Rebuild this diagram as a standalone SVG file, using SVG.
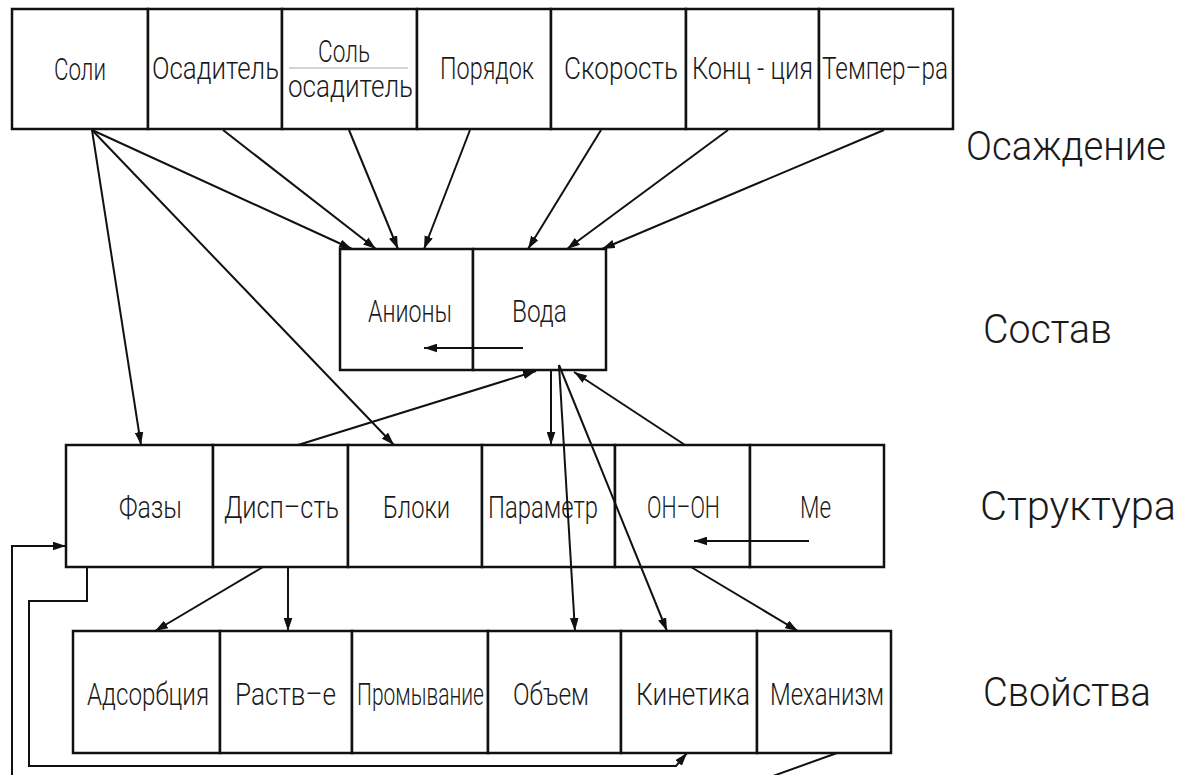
<svg xmlns="http://www.w3.org/2000/svg" width="1182" height="775" viewBox="0 0 1182 775">
<defs>
<marker id="ah" viewBox="0 0 12 8" refX="12" refY="4" markerWidth="13" markerHeight="9" markerUnits="userSpaceOnUse" orient="auto">
<path d="M0,0 L12,4 L0,8 z" fill="#111"/>
</marker>
<style>
.box{fill:#fff;stroke:#111;stroke-width:2.5}
.t{font-family:Roboto,"DejaVu Sans",sans-serif;font-weight:300;font-size:32px;fill:#1a1a1a}
.lbl{font-family:Roboto,"DejaVu Sans",sans-serif;font-weight:300;font-size:41px;fill:#1a1a1a}
.c{fill:none;stroke:#111;stroke-width:2}
.a{fill:none;stroke:#111;stroke-width:2;marker-end:url(#ah)}
</style>
</defs>
<rect width="1182" height="775" fill="#fff"/>

<!-- Row 1: Осаждение -->
<g id="n-soli"><rect class="box" x="12" y="9" width="136" height="120"/><text class="t" transform="translate(54,80) scale(0.75,1)" textLength="69.3" lengthAdjust="spacingAndGlyphs">Соли</text></g>
<g id="n-osaditel"><rect class="box" x="148" y="9" width="134" height="120"/><text class="t" transform="translate(152,79) scale(0.75,1)" textLength="169.3" lengthAdjust="spacingAndGlyphs">Осадитель</text></g>
<g id="n-sol-osaditel"><rect class="box" x="282" y="9" width="135" height="120"/><text class="t" transform="translate(318,62) scale(0.75,1)" textLength="69.3" lengthAdjust="spacingAndGlyphs">Соль</text><line x1="289" y1="68" x2="408" y2="68" stroke="#aaa" stroke-width="1"/><text class="t" transform="translate(288,97) scale(0.75,1)" textLength="166.7" lengthAdjust="spacingAndGlyphs">осадитель</text></g>
<g id="n-poryadok"><rect class="box" x="417" y="9" width="134" height="120"/><text class="t" transform="translate(440,79) scale(0.75,1)" textLength="125.3" lengthAdjust="spacingAndGlyphs">Порядок</text></g>
<g id="n-skorost"><rect class="box" x="551" y="9" width="135" height="120"/><text class="t" transform="translate(564,79) scale(0.75,1)" textLength="152" lengthAdjust="spacingAndGlyphs">Скорость</text></g>
<g id="n-konc"><rect class="box" x="686" y="9" width="133" height="120"/><text class="t" transform="translate(692,79) scale(0.75,1)" textLength="161.3" lengthAdjust="spacingAndGlyphs">Конц - ция</text></g>
<g id="n-temper"><rect class="box" x="819" y="9" width="134" height="120"/><text class="t" transform="translate(822,79) scale(0.75,1)" textLength="168" lengthAdjust="spacingAndGlyphs">Темпер–ра</text></g>

<!-- Row 2: Состав -->
<g id="n-aniony"><rect class="box" x="340" y="249" width="133" height="121"/><text class="t" transform="translate(368,322) scale(0.75,1)" textLength="112" lengthAdjust="spacingAndGlyphs">Анионы</text></g>
<g id="n-voda"><rect class="box" x="473" y="249" width="133" height="121"/><text class="t" transform="translate(512,322) scale(0.75,1)" textLength="73.3" lengthAdjust="spacingAndGlyphs">Вода</text></g>

<!-- Row 3: Структура -->
<g id="n-fazy"><rect class="box" x="66" y="445" width="147" height="122"/><text class="t" transform="translate(119,518) scale(0.75,1)" textLength="84" lengthAdjust="spacingAndGlyphs">Фазы</text></g>
<g id="n-disp"><rect class="box" x="213" y="445" width="135" height="122"/><text class="t" transform="translate(224,518) scale(0.75,1)" textLength="153.3" lengthAdjust="spacingAndGlyphs">Дисп–сть</text></g>
<g id="n-bloki"><rect class="box" x="348" y="445" width="134" height="122"/><text class="t" transform="translate(383,518) scale(0.75,1)" textLength="89.3" lengthAdjust="spacingAndGlyphs">Блоки</text></g>
<g id="n-parametr"><rect class="box" x="482" y="445" width="133" height="122"/><text class="t" transform="translate(488,518) scale(0.75,1)" textLength="146.7" lengthAdjust="spacingAndGlyphs">Параметр</text></g>
<g id="n-ohoh"><rect class="box" x="615" y="445" width="135" height="122"/><text class="t" transform="translate(647,518) scale(0.75,1)" textLength="97.3" lengthAdjust="spacingAndGlyphs">ОН–ОН</text></g>
<g id="n-me"><rect class="box" x="750" y="445" width="134" height="122"/><text class="t" transform="translate(800,518) scale(0.75,1)" textLength="41.3" lengthAdjust="spacingAndGlyphs">Ме</text></g>

<!-- Row 4: Свойства -->
<g id="n-adsorb"><rect class="box" x="73" y="631" width="147" height="122"/><text class="t" transform="translate(87,705) scale(0.75,1)" textLength="162.7" lengthAdjust="spacingAndGlyphs">Адсорбция</text></g>
<g id="n-rastv"><rect class="box" x="220" y="631" width="132" height="122"/><text class="t" transform="translate(235,705) scale(0.75,1)" textLength="134.7" lengthAdjust="spacingAndGlyphs">Раств–е</text></g>
<g id="n-promyv"><rect class="box" x="352" y="631" width="136" height="122"/><text class="t" transform="translate(357,705) scale(0.75,1)" textLength="169.3" lengthAdjust="spacingAndGlyphs">Промывание</text></g>
<g id="n-obem"><rect class="box" x="488" y="631" width="133" height="122"/><text class="t" transform="translate(513,705) scale(0.75,1)" textLength="101.3" lengthAdjust="spacingAndGlyphs">Объем</text></g>
<g id="n-kinetika"><rect class="box" x="621" y="631" width="136" height="122"/><text class="t" transform="translate(636,705) scale(0.75,1)" textLength="152" lengthAdjust="spacingAndGlyphs">Кинетика</text></g>
<g id="n-mehanizm"><rect class="box" x="757" y="631" width="134" height="122"/><text class="t" transform="translate(770,705) scale(0.75,1)" textLength="152" lengthAdjust="spacingAndGlyphs">Механизм</text></g>

<!-- Level labels -->
<g id="lbl-osazhdenie"><text class="lbl" x="966" y="160" textLength="200" lengthAdjust="spacingAndGlyphs">Осаждение</text></g>
<g id="lbl-sostav"><text class="lbl" x="983" y="343" textLength="129" lengthAdjust="spacingAndGlyphs">Состав</text></g>
<g id="lbl-struktura"><text class="lbl" x="980" y="520" textLength="196" lengthAdjust="spacingAndGlyphs">Структура</text></g>
<g id="lbl-svoistva"><text class="lbl" x="983" y="706" textLength="168" lengthAdjust="spacingAndGlyphs">Свойства</text></g>

<!-- Connectors -->
<g id="connectors">
<line class="a" x1="92" y1="130" x2="352" y2="249"/>
<line class="a" x1="92" y1="130" x2="141" y2="445"/>
<line class="a" x1="92" y1="130" x2="394" y2="445"/>
<line class="a" x1="223" y1="130" x2="376" y2="249"/>
<line class="a" x1="349" y1="130" x2="398" y2="249"/>
<line class="a" x1="470" y1="130" x2="424" y2="249"/>
<line class="a" x1="601" y1="130" x2="528" y2="249"/>
<line class="a" x1="728" y1="130" x2="567" y2="249"/>
<line class="a" x1="884" y1="130" x2="602" y2="249"/>
<line class="a" x1="523" y1="348" x2="424" y2="348"/>
<line class="a" x1="298" y1="445" x2="536" y2="371"/>
<line class="a" x1="551" y1="370" x2="551" y2="445"/>
<line class="a" x1="559" y1="365" x2="575" y2="631"/>
<line class="a" x1="559" y1="365" x2="667" y2="631"/>
<line class="a" x1="685" y1="445" x2="574" y2="372"/>
<line class="a" x1="809" y1="541" x2="694" y2="541"/>
<line class="a" x1="263" y1="567" x2="155" y2="631"/>
<line class="a" x1="288" y1="567" x2="288" y2="631"/>
<line class="a" x1="691" y1="567" x2="798" y2="631"/>
<polyline class="a" points="87,567 87,601 29,601 29,766 676,766 687,753"/>
<line class="c" x1="837" y1="753" x2="773" y2="776"/>
<polyline class="a" points="12,776 12,546 66,546"/>
</g>
</svg>
